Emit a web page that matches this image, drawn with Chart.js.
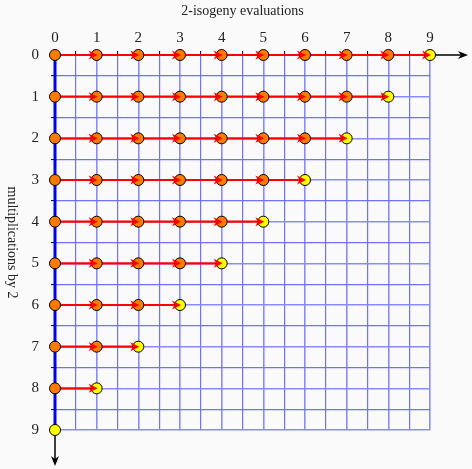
<!DOCTYPE html>
<html>
<head>
<meta charset="utf-8">
<script src="https://cdn.jsdelivr.net/npm/chart.js@4"></script>
<style>
  html, body { margin: 0; padding: 0; background: #fafafa; }
  #wrap { width: 472px; height: 469px; }
</style>
</head>
<body>
<div id="wrap"><canvas id="chart"></canvas></div>
<script>
// axis values
const xTickValues = [0, 1, 2, 3, 4, 5, 6, 7, 8, 9];
const yTickValues = [0, 1, 2, 3, 4, 5, 6, 7, 8, 9];
// row y, and the last x reached on that row
const rowY    = [0, 1, 2, 3, 4, 5, 6, 7, 8, 9];
const rowEnds = [9, 8, 7, 6, 5, 4, 3, 2, 1, 0];
const xTitle = '2-isogeny evaluations';
const yTitle = 'multiplications by 2';

const serif = '"Liberation Serif", "DejaVu Serif", serif';
const orange = '#ff7a00';
const yellow = '#ffff00';

var datasets = [];

// blue column at x = 0
datasets.push({
  label: 'column',
  data: [{x: 0, y: rowY[0]}, {x: 0, y: rowY[rowY.length - 1]}],
  borderColor: '#0000ee',
  borderWidth: 3,
  pointRadius: 0,
  order: 10,
  clip: false
});

for (let r = 0; r < rowY.length; r++) {
  let pts = [];
  for (let x = 0; x <= rowEnds[r]; x++) pts.push({x: x, y: rowY[r]});
  let fills = pts.map((p, i) => i == pts.length - 1 ? yellow : orange);
  datasets.push({
    label: 'row ' + rowY[r],
    data: pts,
    borderColor: '#ff0000',
    borderWidth: 2.2,
    pointRadius: 5.5,
    pointBackgroundColor: fills,
    pointBorderColor: '#000',
    pointBorderWidth: 1,
    order: 1,
    clip: false
  });
}

// axis arrows, little arrowheads and the rotated y title
const decorations = {
  id: 'decorations',
  beforeDatasetsDraw(chart) {
    let ctx = chart.ctx;
    let xs = chart.scales.x, ys = chart.scales.y;
    let x0 = xs.getPixelForValue(0), y0 = ys.getPixelForValue(0);
    let xEnd = chart.width - 4, yEnd = chart.height - 3;
    ctx.save();
    ctx.strokeStyle = '#000';
    ctx.fillStyle = '#000';
    ctx.lineWidth = 1.5;
    ctx.beginPath();
    ctx.moveTo(x0, y0); ctx.lineTo(xEnd - 6, y0);
    ctx.moveTo(x0, y0); ctx.lineTo(x0, yEnd - 6);
    ctx.stroke();
    ctx.beginPath();
    ctx.moveTo(xEnd, y0); ctx.lineTo(xEnd - 10, y0 - 4); ctx.lineTo(xEnd - 7, y0); ctx.lineTo(xEnd - 10, y0 + 4);
    ctx.closePath(); ctx.fill();
    ctx.beginPath();
    ctx.moveTo(x0, yEnd); ctx.lineTo(x0 - 4, yEnd - 10); ctx.lineTo(x0, yEnd - 7); ctx.lineTo(x0 + 4, yEnd - 10);
    ctx.closePath(); ctx.fill();
    ctx.restore();
  },
  afterDatasetsDraw(chart) {
    let ctx = chart.ctx;
    ctx.save();
    ctx.fillStyle = '#ff0000';
    chart.data.datasets.forEach((ds, di) => {
      if (ds.label == 'column') return;
      let meta = chart.getDatasetMeta(di);
      meta.data.forEach((el, i) => {
        if (i == 0) return;
        let tx = el.x + 1, ty = el.y;
        ctx.beginPath();
        ctx.moveTo(tx, ty);
        ctx.lineTo(tx - 9, ty - 4.5);
        ctx.lineTo(tx - 6.5, ty);
        ctx.lineTo(tx - 9, ty + 4.5);
        ctx.closePath();
        ctx.fill();
      });
    });
    ctx.restore();
  },
  afterDraw(chart) {
    let ctx = chart.ctx;
    let ys = chart.scales.y;
    ctx.save();
    ctx.translate(12, (ys.top + ys.bottom) / 2);
    ctx.rotate(Math.PI / 2);
    ctx.font = '14px ' + serif;
    ctx.fillStyle = '#222';
    ctx.textAlign = 'center';
    ctx.textBaseline = 'middle';
    ctx.fillText(yTitle, 0, 0);
    ctx.restore();
  }
};

// whole-unit lines a touch heavier than the half-unit ones
function gridWidth(c) { return (c.tick && Number.isInteger(c.tick.value)) ? 1.6 : 1.2; }
function gridColor(c) { return (c.tick && Number.isInteger(c.tick.value)) ? '#8a8aff' : '#7070ff'; }

var ctx = document.getElementById('chart').getContext('2d');
var myChart = new Chart(ctx, {
  type: 'scatter',
  data: { datasets: datasets },
  options: {
    responsive: true,
    maintainAspectRatio: false,
    animation: false,
    showLine: true,
    layout: { padding: { left: 0, top: 0, right: 42, bottom: 39 } },
    plugins: { legend: { display: false }, tooltip: { enabled: false } },
    scales: {
      x: {
        type: 'linear',
        position: 'top',
        min: xTickValues[0],
        max: xTickValues[xTickValues.length - 1],
        afterFit: s => { s.height = 55; },
        border: { display: false },
        grid: { color: gridColor, lineWidth: gridWidth, tickColor: '#000', tickWidth: 1, tickLength: 4, drawTicks: true },
        ticks: {
          stepSize: 0.5,
          autoSkip: false,
          maxRotation: 0,
          padding: 4,
          color: '#222',
          font: { family: serif, size: 15 },
          callback: v => xTickValues.includes(v) ? String(v) : ''
        },
        title: {
          display: true,
          text: xTitle,
          color: '#222',
          font: { family: serif, size: 14 },
          padding: { top: 3, bottom: 0 }
        }
      },
      y: {
        type: 'linear',
        position: 'left',
        reverse: true,
        min: yTickValues[0],
        max: yTickValues[yTickValues.length - 1],
        afterFit: s => { s.width = 55; },
        border: { display: false },
        grid: { color: gridColor, lineWidth: gridWidth, tickColor: '#000', tickWidth: 1, tickLength: 4, drawTicks: true },
        ticks: {
          stepSize: 0.5,
          autoSkip: false,
          padding: 12,
          color: '#222',
          font: { family: serif, size: 15 },
          callback: v => yTickValues.includes(v) ? String(v) : ''
        }
      }
    }
  },
  plugins: [decorations]
});
</script>
</body>
</html>
